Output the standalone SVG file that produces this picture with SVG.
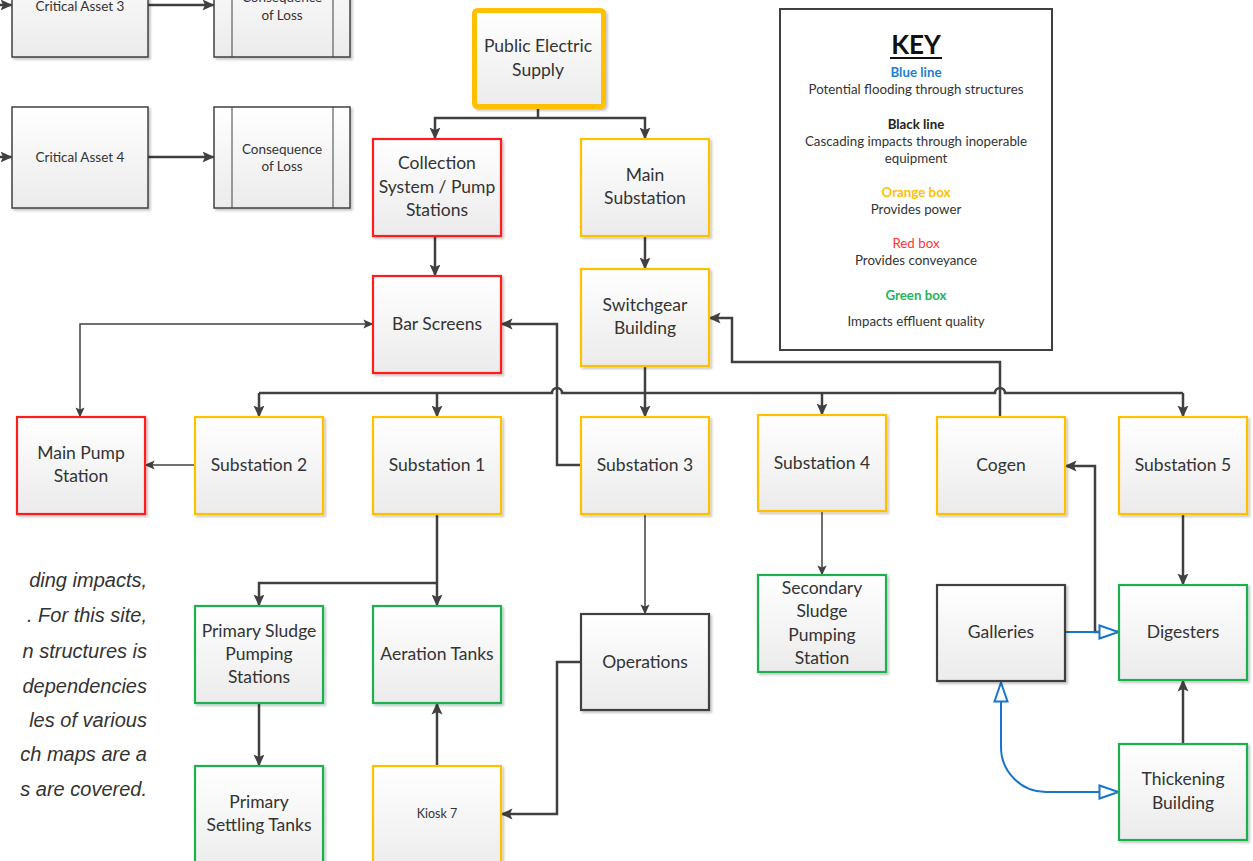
<svg xmlns="http://www.w3.org/2000/svg" width="1253" height="861" viewBox="0 0 1253 861">
<style>
  .bg{fill:#ffffff}
  .box{fill:url(#g);stroke-width:2.2;filter:url(#sh)}
  .o{stroke:#FFC000}
  .r{stroke:#FF1F1F}
  .gr{stroke:#1DB050}
  .k{stroke:#404040}
  .t{font-family:Lato,"Liberation Sans",sans-serif;font-size:17.5px;fill:#333;text-anchor:middle}
  .ts{font-family:Lato,"Liberation Sans",sans-serif;font-size:13.5px;fill:#333;text-anchor:middle}
  .kt{font-family:Lato,"Liberation Sans",sans-serif;font-size:13.3px;fill:#333;text-anchor:middle}
  .kb{font-weight:bold}
  .it{font-family:"Liberation Sans",Arial,sans-serif;font-size:20px;font-style:italic;fill:#333;text-anchor:end}
  .c{fill:none;stroke:#404040;stroke-width:2.5;marker-end:url(#a)}
  .cn{fill:none;stroke:#404040;stroke-width:2.5}
  .c2{fill:none;stroke:#404040;stroke-width:1.5;marker-end:url(#as)}
  .bl{fill:none;stroke:#1874CD;stroke-width:2;marker-end:url(#h)}
</style>
<defs>
  <linearGradient id="g" x1="0" y1="0" x2="0" y2="1">
    <stop offset="0" stop-color="#ffffff"/>
    <stop offset="1" stop-color="#ebebeb"/>
  </linearGradient>
  <filter id="sh" x="-10%" y="-10%" width="125%" height="125%">
    <feDropShadow dx="2" dy="2" stdDeviation="1.2" flood-color="#000" flood-opacity="0.22"/>
  </filter>
  <marker id="a" viewBox="0 0 12 12" refX="11.5" refY="6" markerWidth="12" markerHeight="12" markerUnits="userSpaceOnUse" orient="auto">
    <path d="M0,0.5 L12,6 L0,11.5 L2.5,6 z" fill="#404040"/>
  </marker>
  <marker id="as" viewBox="0 0 12 12" refX="11.5" refY="6" markerWidth="10" markerHeight="10" markerUnits="userSpaceOnUse" orient="auto-start-reverse">
    <path d="M0,0.5 L12,6 L0,11.5 L2.5,6 z" fill="#404040"/>
  </marker>
  <marker id="h" viewBox="0 0 22 16" refX="21" refY="8" markerWidth="22" markerHeight="16" markerUnits="userSpaceOnUse" orient="auto-start-reverse">
    <path d="M1.5,1.5 L20.5,8 L1.5,14.5 z" fill="#ffffff" stroke="#1874CD" stroke-width="2"/>
  </marker>
</defs>
<rect class="bg" x="0" y="0" width="1253" height="861"/>

<g id="connectors">
  <path class="c" d="M0,5 H12"/>
  <path class="c" d="M148,5 H214"/>
  <path class="c" d="M0,157 H12"/>
  <path class="c" d="M148,157 H214"/>
  <path class="cn" d="M538,108 V118"/>
  <path class="c" d="M538,118 H435 V139"/>
  <path class="c" d="M538,118 H645 V139"/>
  <path class="c" d="M435,236 V276"/>
  <path class="c" d="M645,236 V269"/>
  <path class="cn" d="M259,393 H552 a5,5 0 0 1 10,0 H995 a5,5 0 0 1 10,0 H1183"/>
  <path class="c" d="M259,393 V417"/>
  <path class="c" d="M437,393 V417"/>
  <path class="c" d="M645,366 V417"/>
  <path class="c" d="M822,393 V415"/>
  <path class="c" d="M1183,393 V417"/>
  <path class="c" d="M581,465 H557 V324 H501"/>
  <path class="c" d="M1000,417 V362 H732 V318 H709"/>
  <path class="c2" style="marker-start:url(#as)" d="M373,324 H80 V417"/>
  <path class="c2" d="M195,465 H145"/>
  <path class="c" d="M437,514 V606"/>
  <path class="c" d="M437,583 H259 V606"/>
  <path class="c" d="M259,703 V766"/>
  <path class="c" d="M437,766 V703"/>
  <path class="c2" d="M645,514 V614"/>
  <path class="c" d="M581,662 H557 V814 H501"/>
  <path class="c2" d="M822,511 V575"/>
  <path class="c" d="M1183,514 V585"/>
  <path class="c" d="M1183,744 V680"/>
  <path class="c" d="M1119,632 H1095 V466 H1065"/>
  <path class="bl" d="M1065,632 H1119"/>
  <path class="bl" style="marker-start:url(#h)" d="M1001,682 V747 A45,45 0 0 0 1046,792 H1119"/>
</g>

<g id="critical-asset-3">
  <rect class="box k" style="stroke-width:1.5" x="12" y="-45" width="136" height="102"/>
  <text class="ts" x="80" y="11">Critical Asset 3</text>
</g>
<g id="consequence-3">
  <rect class="box k" style="stroke-width:1.5" x="214" y="-45" width="136" height="102"/>
  <line x1="232" y1="-45" x2="232" y2="57" stroke="#404040" stroke-width="1"/>
  <line x1="333" y1="-45" x2="333" y2="57" stroke="#404040" stroke-width="1"/>
  <text class="ts" x="282" y="2">Consequence</text>
  <text class="ts" x="282" y="20">of Loss</text>
</g>
<g id="critical-asset-4">
  <rect class="box k" style="stroke-width:1.5" x="12" y="107" width="136" height="101"/>
  <text class="ts" x="80" y="162">Critical Asset 4</text>
</g>
<g id="consequence-4">
  <rect class="box k" style="stroke-width:1.5" x="214" y="107" width="136" height="101"/>
  <line x1="232" y1="107" x2="232" y2="208" stroke="#404040" stroke-width="1"/>
  <line x1="333" y1="107" x2="333" y2="208" stroke="#404040" stroke-width="1"/>
  <text class="ts" x="282" y="154">Consequence</text>
  <text class="ts" x="282" y="171">of Loss</text>
</g>

<g id="public-electric-supply">
  <rect class="box o" style="stroke-width:5" x="474.5" y="10.5" width="129" height="96" rx="3"/>
  <text class="t" x="538" y="52">Public Electric</text>
  <text class="t" x="538" y="76">Supply</text>
</g>
<g id="collection-system">
  <rect class="box r" x="373" y="139" width="128" height="97"/>
  <text class="t" x="437" y="169">Collection</text>
  <text class="t" x="437" y="193">System / Pump</text>
  <text class="t" x="437" y="216">Stations</text>
</g>
<g id="main-substation">
  <rect class="box o" x="581" y="139" width="128" height="97"/>
  <text class="t" x="645" y="181">Main</text>
  <text class="t" x="645" y="204">Substation</text>
</g>
<g id="bar-screens">
  <rect class="box r" x="373" y="276" width="128" height="97"/>
  <text class="t" x="437" y="330">Bar Screens</text>
</g>
<g id="switchgear-building">
  <rect class="box o" x="581" y="269" width="128" height="97"/>
  <text class="t" x="645" y="311">Switchgear</text>
  <text class="t" x="645" y="334">Building</text>
</g>

<g id="key">
  <rect x="780" y="9" width="272" height="341" fill="#fff" stroke="#404040" stroke-width="2"/>
  <text class="kt kb" style="font-size:26px;fill:#111" x="916" y="54">KEY</text>
  <line x1="890" y1="58" x2="942" y2="58" stroke="#111" stroke-width="2"/>
  <text class="kt kb" style="fill:#1E7FD0" x="916" y="77">Blue line</text>
  <text class="kt" x="916" y="94">Potential flooding through structures</text>
  <text class="kt kb" style="fill:#222" x="916" y="129">Black line</text>
  <text class="kt" x="916" y="146">Cascading impacts through inoperable</text>
  <text class="kt" x="916" y="163">equipment</text>
  <text class="kt kb" style="fill:#FFC000" x="916" y="197">Orange box</text>
  <text class="kt" x="916" y="214">Provides power</text>
  <text class="kt" style="fill:#FF3333" x="916" y="248">Red box</text>
  <text class="kt" x="916" y="265">Provides conveyance</text>
  <text class="kt kb" style="fill:#27B35A" x="916" y="300">Green box</text>
  <text class="kt" x="916" y="326">Impacts effluent quality</text>
</g>

<g id="main-pump-station">
  <rect class="box r" x="17" y="417" width="128" height="97"/>
  <text class="t" x="81" y="459">Main Pump</text>
  <text class="t" x="81" y="482">Station</text>
</g>
<g id="substation-2">
  <rect class="box o" x="195" y="417" width="128" height="97"/>
  <text class="t" x="259" y="471">Substation 2</text>
</g>
<g id="substation-1">
  <rect class="box o" x="373" y="417" width="128" height="97"/>
  <text class="t" x="437" y="471">Substation 1</text>
</g>
<g id="substation-3">
  <rect class="box o" x="581" y="417" width="128" height="97"/>
  <text class="t" x="645" y="471">Substation 3</text>
</g>
<g id="substation-4">
  <rect class="box o" x="758" y="415" width="128" height="96"/>
  <text class="t" x="822" y="469">Substation 4</text>
</g>
<g id="cogen">
  <rect class="box o" x="937" y="417" width="128" height="97"/>
  <text class="t" x="1001" y="471">Cogen</text>
</g>
<g id="substation-5">
  <rect class="box o" x="1119" y="417" width="128" height="97"/>
  <text class="t" x="1183" y="471">Substation 5</text>
</g>

<g id="primary-sludge-pumping">
  <rect class="box gr" x="195" y="606" width="128" height="97"/>
  <text class="t" x="259" y="637">Primary Sludge</text>
  <text class="t" x="259" y="660">Pumping</text>
  <text class="t" x="259" y="683">Stations</text>
</g>
<g id="aeration-tanks">
  <rect class="box gr" x="373" y="606" width="128" height="97"/>
  <text class="t" x="437" y="660">Aeration Tanks</text>
</g>
<g id="operations">
  <rect class="box k" x="581" y="614" width="128" height="96"/>
  <text class="t" x="645" y="668">Operations</text>
</g>
<g id="secondary-sludge">
  <rect class="box gr" x="758" y="575" width="128" height="97"/>
  <text class="t" x="822" y="594">Secondary</text>
  <text class="t" x="822" y="617">Sludge</text>
  <text class="t" x="822" y="641">Pumping</text>
  <text class="t" x="822" y="664">Station</text>
</g>
<g id="galleries">
  <rect class="box k" x="937" y="585" width="128" height="96"/>
  <text class="t" x="1001" y="638">Galleries</text>
</g>
<g id="digesters">
  <rect class="box gr" x="1119" y="585" width="128" height="95"/>
  <text class="t" x="1183" y="638">Digesters</text>
</g>
<g id="thickening-building">
  <rect class="box gr" x="1119" y="744" width="128" height="96"/>
  <text class="t" x="1183" y="785">Thickening</text>
  <text class="t" x="1183" y="809">Building</text>
</g>
<g id="primary-settling-tanks">
  <rect class="box gr" x="195" y="766" width="128" height="110"/>
  <text class="t" x="259" y="808">Primary</text>
  <text class="t" x="259" y="831">Settling Tanks</text>
</g>
<g id="kiosk-7">
  <rect class="box o" x="373" y="766" width="128" height="110"/>
  <text class="ts" style="font-size:12.5px" x="437" y="818">Kiosk 7</text>
</g>

<g id="side-text">
  <text class="it" x="147" y="587">ding impacts,</text>
  <text class="it" x="147" y="622">. For this site,</text>
  <text class="it" x="147" y="658">n structures is</text>
  <text class="it" x="147" y="693">dependencies</text>
  <text class="it" x="147" y="727">les of various</text>
  <text class="it" x="147" y="761">ch maps are a</text>
  <text class="it" x="147" y="796">s are covered.</text>
</g>
</svg>
